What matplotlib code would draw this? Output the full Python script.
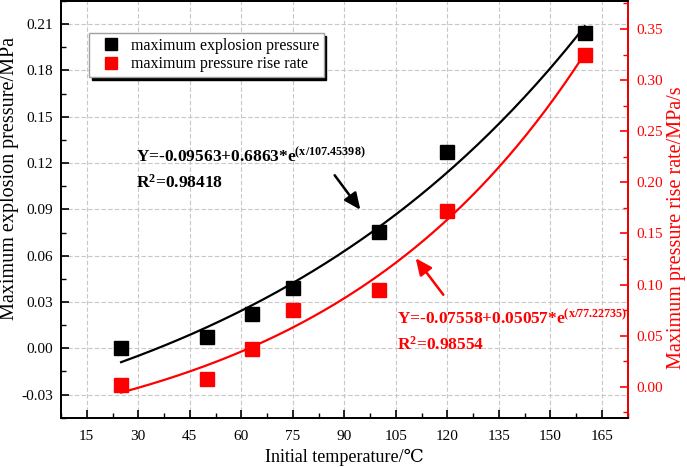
import numpy as np
import matplotlib
matplotlib.use("Agg")
import matplotlib.pyplot as plt
from matplotlib.ticker import MultipleLocator, FormatStrFormatter

plt.rcParams['font.family'] = ['Liberation Serif', 'DejaVu Serif']
plt.rcParams['mathtext.fontset'] = 'custom'
plt.rcParams['mathtext.rm'] = 'Liberation Serif'
plt.rcParams['mathtext.bf'] = 'Liberation Serif:bold'
plt.rcParams['mathtext.it'] = 'Liberation Serif:italic'

# data
temperature = [25, 50, 63, 75, 100, 120, 160]
max_pressure = [0.000, 0.0073, 0.0219, 0.0393, 0.0752, 0.1269, 0.2045]
max_rise_rate = [0.0017, 0.0075, 0.0369, 0.0749, 0.0946, 0.1722, 0.325]

# fitted curve parameters (Y = a + b*exp(x/t))
fit_p = (-0.09563, 0.06863, 107.45398)
fit_r = (-0.07558, 0.05057, 77.22735)
fit_x_range = (25, 160)

fig = plt.figure(figsize=(6.87, 4.67), dpi=100)
ax = fig.add_axes([61/687, 1-417.7/467, (627.7-61)/687, (417.7-1)/467])
ax2 = ax.twinx()

xs = np.linspace(fit_x_range[0], fit_x_range[1], 200)
ax.plot(xs, fit_p[0] + fit_p[1]*np.exp(xs/fit_p[2]), color='black', lw=1.6, zorder=3)
ax2.plot(xs, fit_r[0] + fit_r[1]*np.exp(xs/fit_r[2]), color='red', lw=1.6, zorder=3)

h1, = ax.plot(temperature, max_pressure, 's', color='black', ms=10, ls='none',
              label='maximum explosion pressure', zorder=4)
h2, = ax2.plot(temperature, max_rise_rate, 's', color='red', ms=10, ls='none',
               label='maximum pressure rise rate', zorder=4)

ax.set_xlim(7.5, 172.5)
ax.set_ylim(-0.045, 0.225)
ax2.set_ylim(-0.0303, 0.3774)

ax.xaxis.set_major_locator(MultipleLocator(15))
ax.xaxis.set_minor_locator(MultipleLocator(7.5))
ax.yaxis.set_major_locator(MultipleLocator(0.03))
ax.yaxis.set_minor_locator(MultipleLocator(0.015))
ax.yaxis.set_major_formatter(FormatStrFormatter('%.2f'))
ax2.yaxis.set_major_locator(MultipleLocator(0.05))
ax2.yaxis.set_minor_locator(MultipleLocator(0.025))
ax2.yaxis.set_major_formatter(FormatStrFormatter('%.2f'))

for a in (ax, ax2):
    a.tick_params(which='major', direction='in', length=6, width=1.2, labelsize=11)
    a.tick_params(which='minor', direction='in', length=3.5, width=1.0)
ax.tick_params(axis='x', pad=9)
ax.tick_params(axis='y', pad=6)
ax2.tick_params(axis='y', which='both', colors='red', pad=6)
ax2.tick_params(axis='y', labelcolor='red')

for s in ax.spines.values():
    s.set_linewidth(1.3)
for s in ax2.spines.values():
    s.set_linewidth(1.3)
ax2.spines['right'].set_color('red')

ax.grid(True, which='major', color='#c8c8c8', ls=(0, (4, 2)), lw=0.8)
ax.set_axisbelow(True)

ax.set_xlabel('Initial temperature/\u2103', fontsize=13, labelpad=4)
ax.set_ylabel('Maximum explosion pressure/MPa', fontsize=14.5)
ax.yaxis.set_label_coords((19-61)/566.7, (417.7-178)/416.7)
ax2.set_ylabel('Maximum pressure rise rate/MPa/s', fontsize=14.5, color='red')
ax2.yaxis.set_label_coords((667-61)/566.7, (417.7-228)/416.7)

leg = ax2.legend(handles=[h1, h2], loc='upper left', bbox_to_anchor=(20/566.7, 1-24/416.7),
                 fontsize=11.5, frameon=True, fancybox=False, shadow={'color': 'black', 'alpha': 1},
                 edgecolor='#a0a0a0', handlelength=2.2, handletextpad=0.1, borderpad=0.3,
                 labelspacing=0.15, markerscale=0.85)
leg.get_frame().set_linewidth(1.0)

ax2.set_zorder(ax.get_zorder() + 1)
ax.patch.set_visible(True)
ax2.patch.set_visible(False)

fig.text(136/687, 1-162/467, 'Y=-0.09563+0.6863*e$^{\\mathbf{(x/107.45398)}}$', fontsize=12.5,
         fontweight='bold', color='black', va='baseline')
fig.text(136/687, 1-188/467, 'R$^{\\mathbf{2}}$=0.98418', fontsize=12.5,
         fontweight='bold', color='black', va='baseline')
fig.text(397/687, 1-324/467, 'Y=-0.07558+0.05057*e$^{\\mathbf{(x/77.22735)}}$', fontsize=12.5,
         fontweight='bold', color='red', va='baseline')
fig.text(397/687, 1-350/467, 'R$^{\\mathbf{2}}$=0.98554', fontsize=12.5,
         fontweight='bold', color='red', va='baseline')

fig.add_artist(matplotlib.patches.FancyArrowPatch(
    (333/687, 1-173/467), (362/687, 1-212/467), transform=fig.transFigure,
    arrowstyle='-|>,head_length=10,head_width=4.5', color='black', lw=1.8, mutation_scale=1))
fig.add_artist(matplotlib.patches.FancyArrowPatch(
    (445/687, 1-297/467), (414/687, 1-256/467), transform=fig.transFigure,
    arrowstyle='-|>,head_length=10,head_width=4.5', color='red', lw=1.8, mutation_scale=1))

fig.savefig('out.png', dpi=100)
